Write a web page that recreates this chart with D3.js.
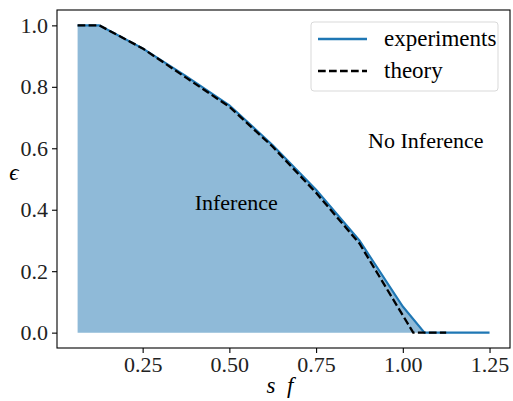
<!DOCTYPE html>
<html lang="en">
<head>
<meta charset="UTF-8">
<title>Inference region</title>
<script src="https://d3js.org/d3.v7.min.js"></script>
<style>
    body { margin: 0; background: #fff; }
    svg { display: block; font-family: "Liberation Serif", "DejaVu Serif", serif; }
</style>
</head>
<body>
<svg width="513" height="401"></svg>
<script>
    // experiments (s f, epsilon)
    const expX = [0.0625, 0.125, 0.25, 0.375, 0.5, 0.625, 0.75, 0.875, 1.0, 1.0625, 1.125, 1.1875, 1.25];
    const expY = [1.0, 1.0, 0.925, 0.835, 0.74, 0.61, 0.465, 0.30, 0.085, 0.0, 0.0, 0.0, 0.0];
    // theory
    const thX = [0.0625, 0.125, 0.25, 0.375, 0.5, 0.625, 0.75, 0.875, 1.03, 1.125];
    const thY = [1.0, 1.0, 0.925, 0.83, 0.735, 0.605, 0.455, 0.29, 0.0, 0.0];
    const xTicks = [0.25, 0.50, 0.75, 1.00, 1.25];
    const yTicks = [0.0, 0.2, 0.4, 0.6, 0.8, 1.0];

    const exp = expX.map((x, i) => ({x: x, y: expY[i]}));
    const th = thX.map((x, i) => ({x: x, y: thY[i]}));

    const svg = d3.select("svg"),
        mLeft = 57, mRight = 510, mTop = 10, mBottom = 348;

    const x = d3.scaleLinear().domain([0.0031, 1.309]).range([mLeft, mRight]),
        y = d3.scaleLinear().domain([-0.05, 1.05]).range([mBottom, mTop]);

    // shaded region under the experiments curve
    svg.append("path")
        .datum(exp)
        .attr("fill", "#8fbad8")
        .attr("d", d3.area().x(d => x(d.x)).y0(y(0)).y1(d => y(d.y)));

    svg.append("path")
        .datum(exp)
        .attr("fill", "none")
        .attr("stroke", "#1f77b4")
        .attr("stroke-width", 2.1)
        .attr("d", d3.line().x(d => x(d.x)).y(d => y(d.y)));

    svg.append("path")
        .datum(th)
        .attr("fill", "none")
        .attr("stroke", "#000")
        .attr("stroke-width", 2.3)
        .attr("stroke-dasharray", "7.7,3.3")
        .attr("d", d3.line().x(d => x(d.x)).y(d => y(d.y)));

    // axes
    const gx = svg.append("g")
        .attr("transform", "translate(0," + mBottom + ")")
        .call(d3.axisBottom(x).tickValues(xTicks).tickFormat(d3.format(".2f")).tickSizeOuter(0).tickSize(5).tickPadding(3));
    const gy = svg.append("g")
        .attr("transform", "translate(" + mLeft + ",0)")
        .call(d3.axisLeft(y).tickValues(yTicks).tickFormat(d3.format(".1f")).tickSizeOuter(0).tickSize(5).tickPadding(4));
    gx.select(".domain").remove();
    gy.select(".domain").remove();
    svg.selectAll(".tick line").attr("stroke", "#000").attr("stroke-width", 1.1);
    svg.selectAll(".tick text")
        .style("font-family", "Liberation Serif, serif")
        .style("font-size", "22px")
        .attr("fill", "#222");
    gx.selectAll(".tick text").attr("dy", "0.71em");

    svg.append("rect")
        .attr("x", mLeft).attr("y", mTop)
        .attr("width", mRight - mLeft).attr("height", mBottom - mTop)
        .attr("fill", "none").attr("stroke", "#000").attr("stroke-width", 1.1);

    // axis labels
    svg.append("text")
        .attr("x", 280).attr("y", 393)
        .attr("text-anchor", "middle")
        .style("font-size", "23px").style("font-style", "italic")
        .text("s\u00a0\u00a0f");
    svg.append("text")
        .attr("x", 14).attr("y", 180)
        .attr("text-anchor", "middle")
        .style("font-size", "23px").style("font-style", "italic")
        .text("\u03f5");

    // region labels
    svg.append("text")
        .attr("x", x(0.4)).attr("y", y(0.4))
        .style("font-size", "22px")
        .text("Inference");
    svg.append("text")
        .attr("x", x(0.9)).attr("y", y(0.6))
        .style("font-size", "22px")
        .text("No Inference");

    // legend
    const lg = svg.append("g");
    lg.append("rect")
        .attr("x", 311).attr("y", 22)
        .attr("width", 187).attr("height", 69)
        .attr("rx", 3)
        .attr("fill", "#fff").attr("fill-opacity", 0.8)
        .attr("stroke", "#d9d9d9").attr("stroke-width", 1);
    const legendItems = [
        {label: "experiments", color: "#1f77b4", dash: null},
        {label: "theory", color: "#000", dash: "7.7,3.3"}
    ];
    legendItems.forEach(function(d, i) {
        const yy = 39 + i * 32;
        lg.append("line")
            .attr("x1", 318).attr("x2", 367)
            .attr("y1", yy).attr("y2", yy)
            .attr("stroke", d.color).attr("stroke-width", 2.3)
            .attr("stroke-dasharray", d.dash);
        lg.append("text")
            .attr("x", 384).attr("y", yy + 7)
            .style("font-size", "23px")
            .text(d.label);
    });
</script>
</body>
</html>
